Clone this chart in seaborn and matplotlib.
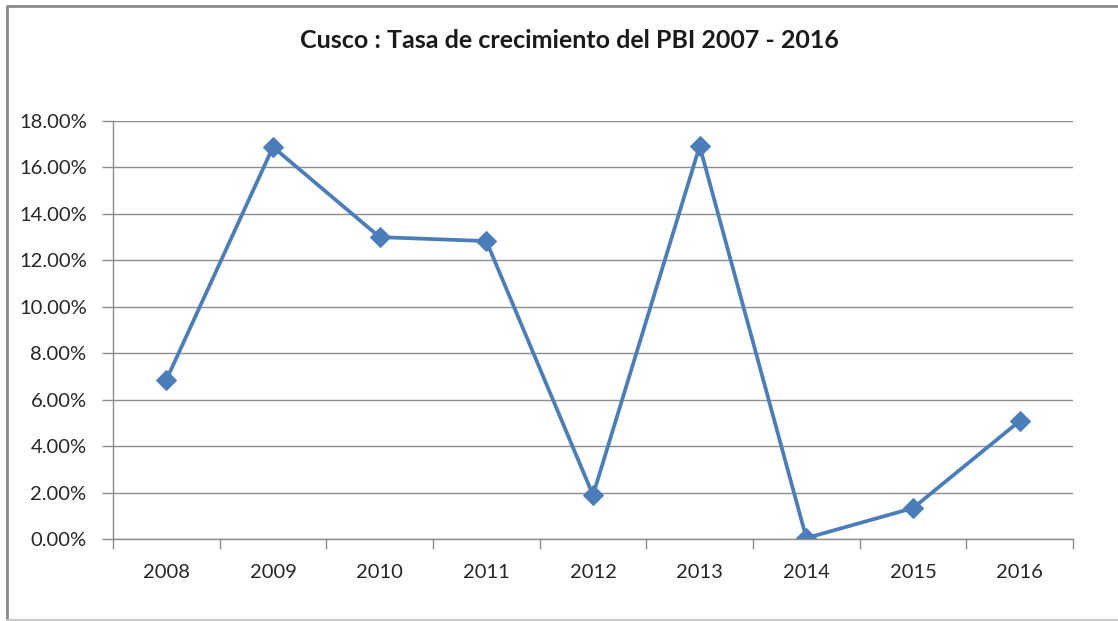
import pandas as pd
import matplotlib.pyplot as plt
import seaborn as sns
from matplotlib.lines import Line2D
from matplotlib.ticker import FuncFormatter, FixedLocator

# tasa de crecimiento del PBI de Cusco (%)
years = ['2008', '2009', '2010', '2011', '2012', '2013', '2014', '2015', '2016']
growth = [6.85, 16.88, 13.0, 12.83, 1.89, 16.92, 0.04, 1.33, 5.08]

df = pd.DataFrame({'year': years, 'growth': growth})
df['pos'] = range(len(years))

sns.set_style('white')
plt.rcParams['font.family'] = ['Lato', 'DejaVu Sans']

fig = plt.figure(figsize=(11.18, 6.21), dpi=100)
ax = fig.add_axes([113 / 1118, 1 - 539 / 621, (1073 - 113) / 1118, (539 - 121) / 621])

# chart border (top, left, bottom; right edge is cut off)
W, H = 1118, 621
for xs, ys, c, lw in [([7, W], [H - 6, H - 6], '#8a8a8a', 2),
                      ([7, 7], [H - 6, 1], '#8a8a8a', 2),
                      ([7, W], [1, 1], '#c8c8c8', 1.5)]:
    fig.lines.append(Line2D([x / W for x in xs], [y / H for y in ys],
                            transform=fig.transFigure, color=c, linewidth=lw))

sns.lineplot(data=df, x='pos', y='growth', ax=ax, color='#4a7ebb', linewidth=2.7,
             marker='D', markersize=10, markeredgecolor='#4a7ebb')

ax.set_xlim(-0.5, len(years) - 0.5)
ax.set_ylim(0, 18)
ax.set_yticks(range(0, 19, 2))
ax.yaxis.set_major_formatter(FuncFormatter(lambda v, p: f'{v:.2f}%'))
ax.yaxis.grid(True, color='#8c8c8c', linewidth=1)
ax.set_axisbelow(True)

# category labels centred, tick marks on boundaries
ax.set_xticks(range(len(years)))
ax.set_xticklabels(years)
ax.xaxis.set_minor_locator(FixedLocator([i - 0.5 for i in range(len(years) + 1)]))
ax.tick_params(axis='x', which='major', length=0, pad=18, labelsize=14.5, colors='#262626')
ax.tick_params(axis='x', which='minor', length=7, width=1, color='#8c8c8c', bottom=True)
ax.tick_params(axis='y', length=8, width=1, color='#8c8c8c', pad=11, labelsize=14.5,
               labelcolor='#262626', left=True)

for s in ['top', 'right']:
    ax.spines[s].set_visible(False)
for s in ['left', 'bottom']:
    ax.spines[s].set_color('#8c8c8c')
    ax.spines[s].set_linewidth(1)

ax.set_xlabel('')
ax.set_ylabel('')
fig.text(569 / W, 1 - 41 / H, 'Cusco : Tasa de crecimiento del PBI 2007 - 2016',
         ha='center', va='center', fontsize=18, fontweight='bold', color='#1a1a1a')

fig.savefig('out.png', dpi=100)
